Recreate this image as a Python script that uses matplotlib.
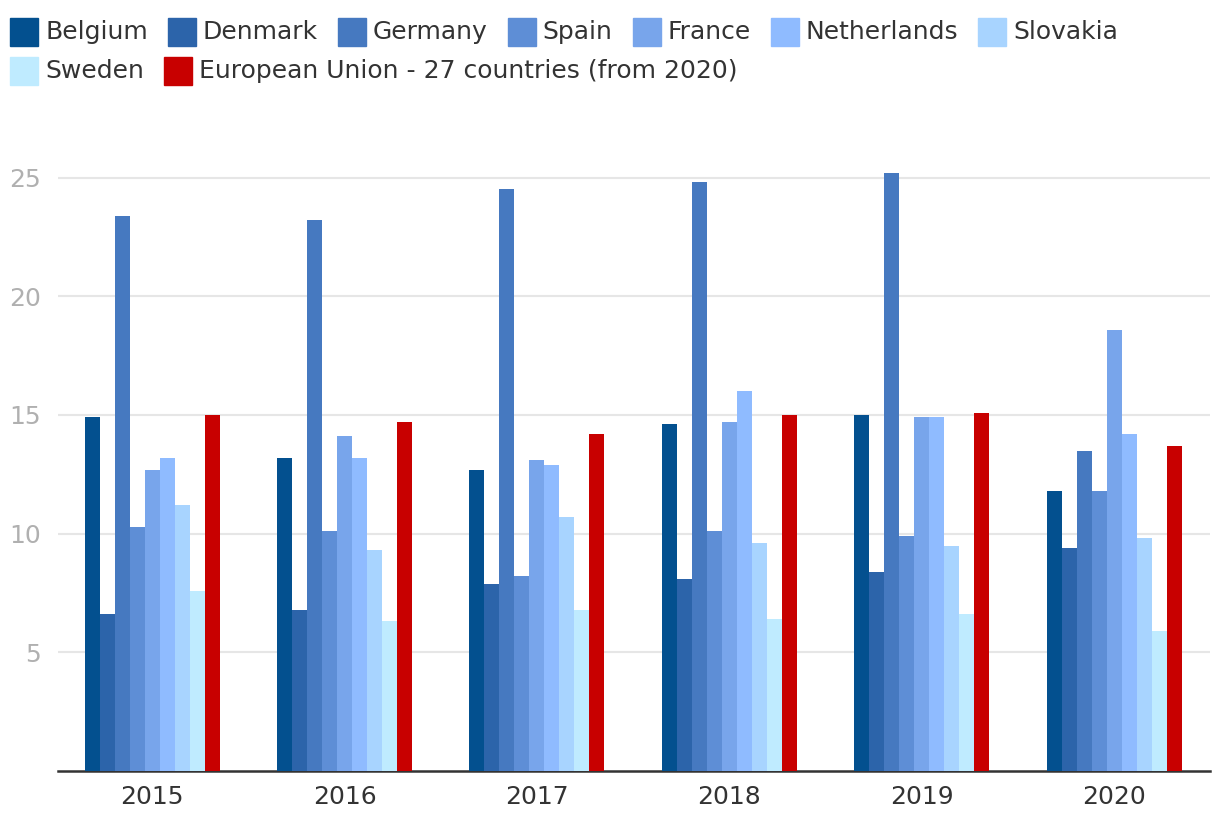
import matplotlib.pyplot as plt
from matplotlib.patches import Rectangle
import numpy as np

plt.rcParams['font.family'] = ['DejaVu Sans']

years = ['2015', '2016', '2017', '2018', '2019', '2020']
countries = ['Belgium', 'Denmark', 'Germany', 'Spain', 'France', 'Netherlands',
             'Slovakia', 'Sweden', 'European Union - 27 countries (from 2020)']
colors = ['#03508f', '#2c64aa', '#4679c0', '#5e8ed6', '#78a5eb', '#8fbbff',
          '#a8d4ff', '#bfebff', '#c80000']

belgium = [14.9, 13.2, 12.7, 14.6, 15.0, 11.8]
denmark = [6.6, 6.8, 7.9, 8.1, 8.4, 9.4]
germany = [23.4, 23.2, 24.5, 24.8, 25.2, 13.5]
spain = [10.3, 10.1, 8.2, 10.1, 9.9, 11.8]
france = [12.7, 14.1, 13.1, 14.7, 14.9, 18.6]
netherlands = [13.2, 13.2, 12.9, 16.0, 14.9, 14.2]
slovakia = [11.2, 9.3, 10.7, 9.6, 9.5, 9.8]
sweden = [7.6, 6.3, 6.8, 6.4, 6.6, 5.9]
eu27 = [15.0, 14.7, 14.2, 15.0, 15.1, 13.7]
series = [belgium, denmark, germany, spain, france, netherlands, slovakia, sweden, eu27]

fig = plt.figure(figsize=(12.2, 8.34), dpi=100)
ax = fig.add_axes([0.0475, 0.0755, 0.9445, 0.74])

x = np.arange(len(years))
w = 0.078
for i, vals in enumerate(series):
    ax.bar(x + (i - 4) * w, vals, width=w, color=colors[i], linewidth=0, zorder=3)

ax.set_xlim(-0.49, 5.5)
ax.set_ylim(0, 26)
ax.set_yticks([5, 10, 15, 20, 25])
ax.set_xticks(x)
ax.set_xticklabels(years)
ax.grid(axis='y', color='#e6e6e6', linewidth=1.5, zorder=0)
for s in ['top', 'right', 'left']:
    ax.spines[s].set_visible(False)
ax.spines['bottom'].set_color('#333333')
ax.spines['bottom'].set_linewidth(1.8)
ax.tick_params(axis='both', length=0)
ax.tick_params(axis='x', labelsize=18, colors='#333333', pad=10)
ax.tick_params(axis='y', labelsize=18, colors='#b0b0b0', pad=12)

# legend laid out as a wrapping row of items
fig.canvas.draw()
renderer = fig.canvas.get_renderer()
W, H = 1220, 834
px, py = 10, 18
sq = 28
for lab, c in zip(countries, colors):
    t = fig.text(0, 0, lab, fontsize=18, color='#333333', va='center', ha='left')
    tw = t.get_window_extent(renderer).width
    if px + sq + 7 + tw > W - 10:
        px = 10
        py += 39
    fig.patches.append(Rectangle((px / W, 1 - (py + sq) / H), sq / W, sq / H,
                                 transform=fig.transFigure, color=c, figure=fig))
    t.set_position(((px + sq + 7) / W, 1 - (py + sq / 2) / H))
    px += sq + 7 + tw + 20

fig.savefig('out.png', dpi=100)
